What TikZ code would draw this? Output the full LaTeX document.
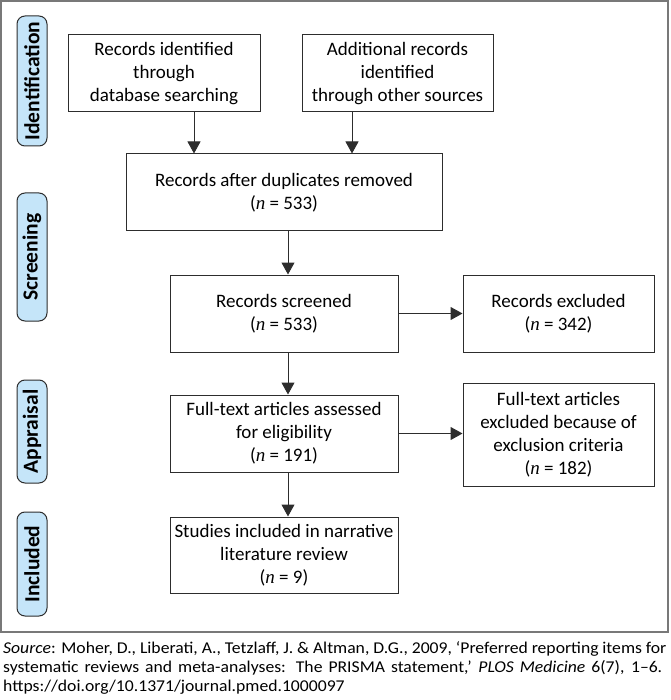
\documentclass[tikz,border=0pt]{standalone}
\usepackage{fontspec}
\setmainfont{Carlito}
\newfontfamily\serifit{Liberation Serif}
\newfontfamily\capfont{Carlito}[FakeStretch=1.07]
\usetikzlibrary{arrows.meta,calc}
\definecolor{labfill}{RGB}{197,229,249}
\definecolor{boxline}{RGB}{45,45,45}
\definecolor{framegray}{RGB}{120,120,120}
\newcommand{\nnum}[1]{({\serifit\itshape n} = #1)}
\newcommand{\capline}[2]{\hbox to #1{\spaceskip=0.2em plus 1em minus 0.08em\relax #2}}
\tikzset{
  box/.style={draw=boxline, line width=1pt, align=center, inner sep=2pt,
    font=\fontsize{19}{23}\selectfont},
  sidelab/.style={draw=boxline, line width=1pt, fill=labfill, rounded corners=8pt,
    rotate=90, minimum height=30pt, inner sep=0pt,
    font=\fontsize{21.5}{24}\selectfont\bfseries},
  arr/.style={draw=boxline, line width=1pt, -{Triangle[length=12pt,width=13pt]}}
}
\begin{document}
\begin{tikzpicture}[x=1pt,y=-1pt]
\useasboundingbox (0,0) rectangle (670,700);
\draw[framegray, line width=1.2pt] (1,1) rectangle (668,632);

% side labels
\node[sidelab, minimum width=130pt] (lid) at (32,81) {Identification};
\node[sidelab, minimum width=128pt] (lsc) at (32,257) {Screening};
\node[sidelab, minimum width=103pt] (lap) at (32,431.5) {Appraisal};
\node[sidelab, minimum width=104pt] (lin) at (32,564) {Included};

% boxes
\node[box, minimum width=192pt, minimum height=77pt] (b1) at (164,73.5)
  {Records identified\\through\\database searching};
\node[box, minimum width=191pt, minimum height=77pt] (b2) at (397.5,73.5)
  {Additional records\\identified\\through other sources};
\node[box, minimum width=316pt, minimum height=77pt] (b3) at (284,192.5)
  {Records after duplicates removed\\\nnum{533}};
\node[box, minimum width=228pt, minimum height=77pt] (b4) at (284,313.5)
  {Records screened\\\nnum{533}};
\node[box, minimum width=191pt, minimum height=77pt] (b5) at (558.5,313.5)
  {Records excluded\\\nnum{342}};
\node[box, minimum width=228pt, minimum height=77pt] (b6) at (284,433.5)
  {Full-text articles assessed\\for eligibility\\\nnum{191}};
\node[box, minimum width=191pt, minimum height=103pt] (b7) at (558.5,434.5)
  {Full-text articles\\excluded because of\\exclusion criteria\\\nnum{182}};
\node[box, minimum width=228pt, minimum height=76pt] (b8) at (284,555)
  {Studies included in narrative\\literature review\\\nnum{9}};

% connector columns
\coordinate (xa) at (194,0);
\coordinate (xb) at (352,0);
\coordinate (xc) at (288,0);

\draw[arr] (b1.south -| xa) -- (b3.north -| xa);
\draw[arr] (b2.south -| xb) -- (b3.north -| xb);
\draw[arr] (b3.south -| xc) -- (b4.north -| xc);
\draw[arr] (b4.south -| xc) -- (b6.north -| xc);
\draw[arr] (b6.south -| xc) -- (b8.north -| xc);
\draw[arr] (b4.east) -- (b5.west);
\draw[arr] (b6.east) -- (b6.east -| b7.west);

% caption
\node[anchor=north west, align=left, inner sep=0pt,
  font=\capfont\fontsize{16.5}{19}\selectfont] (cap) at (3,641)
  {\capline{663pt}{\textit{Source}: Moher, D., Liberati, A., Tetzlaff, J. \& Altman, D.G., 2009, ‘Preferred reporting items for}\\
   \capline{659pt}{systematic reviews and meta-analyses: The PRISMA statement,’ \textit{PLOS Medicine} 6(7), 1–6.}\\
   https://doi.org/10.1371/journal.pmed.1000097};
\end{tikzpicture}
\end{document}
